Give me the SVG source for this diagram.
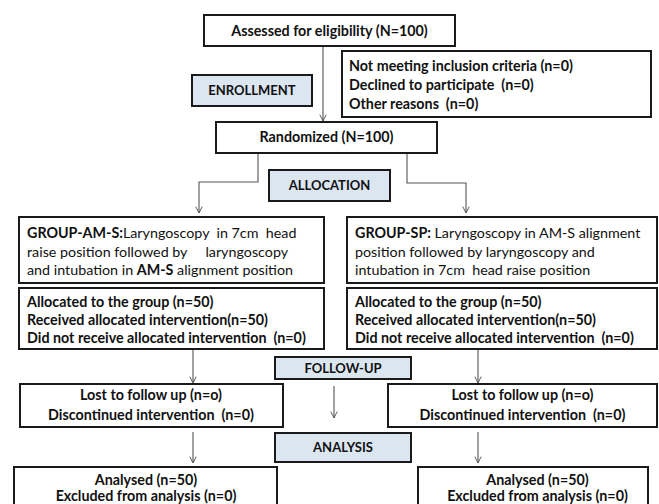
<svg xmlns="http://www.w3.org/2000/svg" width="659" height="504" viewBox="0 0 659 504">
<defs>
<marker id="arr" viewBox="0 0 10 10" refX="9" refY="5" markerWidth="8" markerHeight="8" markerUnits="userSpaceOnUse" orient="auto">
<path d="M1,1 L9,5 L1,9" fill="none" stroke="#555" stroke-width="1.2"/>
</marker>
<style>
.box{fill:#fff;stroke:#1a1a1a;stroke-width:2}
.stage{fill:#dce6f1;stroke:#1a1a1a;stroke-width:2}
text{font-family:Lato,"Liberation Sans",sans-serif;font-size:14.3px;fill:#111;font-weight:bold;white-space:pre}
.s{font-size:13px}
.c{text-anchor:middle}
.n{font-weight:normal}
.con{fill:none;stroke:#555;stroke-width:1.1;marker-end:url(#arr)}
</style>
</defs>
<rect width="659" height="504" fill="#fff"/>
<g id="connectors">
<path class="con" d="M323,47 V121"/>
<path class="con" d="M258,154 V182 H199 V213"/>
<path class="con" d="M407,154 V183 H466 V213"/>
<path class="con" d="M193,350 V383"/>
<path class="con" d="M478,350 V383"/>
<path class="con" d="M334,386 V418"/>
<path class="con" d="M193,432 V463"/>
<path class="con" d="M478,432 V463"/>
</g>
<g id="assessed"><rect class="box" x="204" y="15" width="251" height="31"/><text class="c" x="329.5" y="36">Assessed for eligibility (N=100)</text></g>
<g id="excluded"><rect class="box" x="342" y="51" width="309" height="66"/>
<text x="349" y="70.5">Not meeting inclusion criteria (n=0)</text>
<text x="349" y="89.5">Declined to participate  (n=0)</text>
<text x="349" y="108.5">Other reasons  (n=0)</text></g>
<g id="enrollment"><rect class="stage" x="192" y="75" width="120" height="31"/><text class="c s" x="252" y="95">ENROLLMENT</text></g>
<g id="randomized"><rect class="box" x="216" y="122" width="221" height="31"/><text class="c" x="326.5" y="142">Randomized (N=100)</text></g>
<g id="allocation"><rect class="stage" x="269" y="170" width="121" height="31"/><text class="c s" x="329.5" y="190">ALLOCATION</text></g>
<g id="group-ams"><rect class="box" x="19" y="217" width="305" height="66"/>
<text x="27" y="238">GROUP-AM-S:<tspan class="n">Laryngoscopy  in 7cm  head</tspan></text>
<text x="27" y="256.5" class="n">raise position followed by     laryngoscopy</text>
<text x="27" y="275" class="n">and intubation in <tspan font-weight="bold">AM-S</tspan> alignment position</text></g>
<g id="group-sp"><rect class="box" x="347" y="217" width="310" height="66"/>
<text x="355" y="238">GROUP-SP: <tspan class="n">Laryngoscopy in AM-S alignment</tspan></text>
<text x="355" y="256.5" class="n">position followed by laryngoscopy and</text>
<text x="355" y="275" class="n">intubation in 7cm  head raise position</text></g>
<g id="alloc-left"><rect class="box" x="19" y="288" width="305" height="61"/>
<text x="27" y="306.5">Allocated to the group (n=50)</text>
<text x="27" y="324.5">Received allocated intervention(n=50)</text>
<text x="27" y="342.5">Did not receive allocated intervention  (n=0)</text></g>
<g id="alloc-right"><rect class="box" x="347" y="288" width="310" height="61"/>
<text x="355" y="306.5">Allocated to the group (n=50)</text>
<text x="355" y="324.5">Received allocated intervention(n=50)</text>
<text x="355" y="342.5">Did not receive allocated intervention  (n=0)</text></g>
<g id="followup"><rect class="stage" x="275" y="357" width="136" height="22"/><text class="c s" x="343" y="372.5">FOLLOW-UP</text></g>
<g id="lost-left"><rect class="box" x="20" y="384" width="263" height="43"/>
<text class="c" x="151" y="400">Lost to follow up (n=o)</text>
<text class="c" x="151" y="420">Discontinued intervention  (n=0)</text></g>
<g id="lost-right"><rect class="box" x="388" y="384" width="269" height="43"/>
<text class="c" x="522.5" y="400">Lost to follow up (n=o)</text>
<text class="c" x="522.5" y="420">Discontinued intervention  (n=0)</text></g>
<g id="analysis"><rect class="stage" x="275" y="433" width="136" height="29"/><text class="c s" x="343" y="452">ANALYSIS</text></g>
<g id="analysed-left"><rect class="box" x="14" y="467" width="263" height="45"/>
<text class="c" x="146" y="484.5">Analysed (n=50)</text>
<text class="c" x="146" y="500.5">Excluded from analysis (n=0)</text></g>
<g id="analysed-right"><rect class="box" x="418" y="467" width="230" height="45"/>
<text class="c" x="537.5" y="484.5">Analysed (n=50)</text>
<text class="c" x="537.5" y="500.5">Excluded from analysis (n=0)</text></g>
</svg>
